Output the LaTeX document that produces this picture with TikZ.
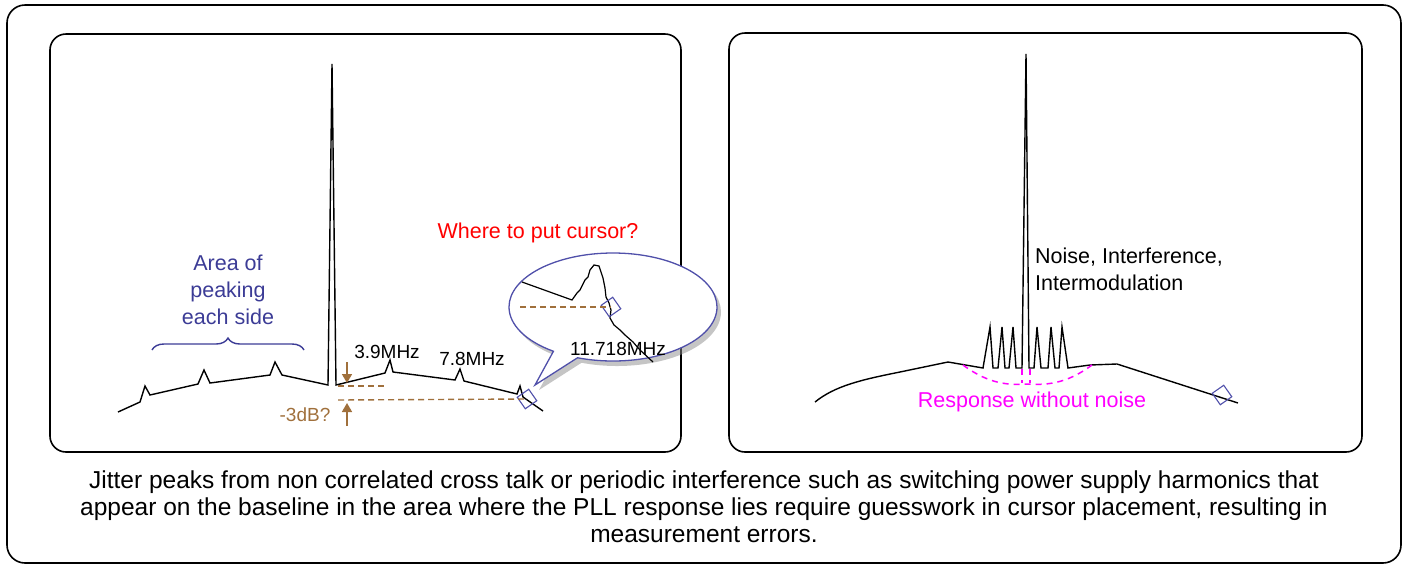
\documentclass[tikz,border=0pt]{standalone}
\usepackage{fontspec}
\setmainfont{Liberation Sans}
\usepackage{xcolor}
\usepackage{tikz}
\usetikzlibrary{shapes.geometric,shapes.callouts,arrows.meta,positioning,decorations.pathreplacing,shadows}
\definecolor{cursorblue}{RGB}{80,80,170}
\definecolor{areablue}{RGB}{60,60,150}
\definecolor{dbbrown}{RGB}{160,112,60}
\definecolor{respmagenta}{RGB}{255,0,255}

\begin{document}
\begin{tikzpicture}[
  x=1pt,y=-1pt,
  font=\fontsize{21.5}{27}\selectfont,
  panel/.style={draw,line width=1.6pt,rounded corners=16pt},
  trace/.style={line width=1.4pt,line join=miter},
  lbl/.style={inner sep=0pt,font=\fontsize{19}{22}\selectfont},
  cursor/.style={draw=cursorblue,line width=1.1pt,rectangle,rotate=35,minimum size=14pt,inner sep=0pt},
  guide/.style={draw=dbbrown,dash pattern=on 6pt off 4pt,line width=1.4pt},
  arr/.style={-{Triangle[length=9pt,width=10pt]},draw=dbbrown,line width=1.6pt},
  resp/.style={draw=respmagenta,dash pattern=on 6pt off 5pt,line width=1.5pt},
]
\useasboundingbox (0,0) rectangle (1405,566);

% 外框与两个面板
\draw[panel,rounded corners=18pt] (7,5) rectangle (1401,563);
\draw[panel] (50,34) rectangle (681,452);
\draw[panel] (729,33) rectangle (1362,452);

% 左图：频谱曲线
\draw[trace] (118,412) -- (140,402) -- (145,386) -- (150,395) -- (198,384) -- (204,370) -- (210,383)
  -- (270,375) -- (275,362) -- (282,375) -- (328,385) -- (332,64) -- (336,385)
  -- (385,373) -- (390,360) -- (393,372) -- (455,380) -- (460,369) -- (464,381)
  -- (517,394) -- (520,386) -- (523,397) -- (543,411);

% 左图：光标与 -3dB 标注
\node[cursor] (cur1) at (527,399) {};
\coordinate (hi) at (338,386);
\coordinate (hiend) at (384,386);
\coordinate (lo) at (338,400);
\coordinate (dntop) at (347,362);
\coordinate (dnend) at (347,383);
\coordinate (upbot) at (347,426);
\coordinate (upend) at (347,403);
\draw[guide] (hi) -- (hiend);
\draw[guide] (lo) -- (cur1.center);
\draw[arr] (dntop) -- (dnend);
\draw[arr] (upbot) -- (upend);
\node[lbl,text=dbbrown] (db) at (305,415) {-3dB?};

% 左图：频率标签
\node[lbl] (f1) at (387,352) {3.9MHz};
\node[lbl] (f2) at (472,359) {7.8MHz};

% 左图：峰化区域
\coordinate (brl) at (152,350);
\coordinate (brr) at (304,350);
\draw[areablue,line width=1.4pt,decorate,decoration={brace,amplitude=12pt}] (brl) -- (brr);
\node[text=areablue,align=center,inner sep=0pt] (area) at (228,290) {Area of\\peaking\\each side};

% 放大气泡
\node[text=red,inner sep=0pt] (where) at (538,233) {Where to put cursor?};
\coordinate (tip) at (535,385);
\node[ellipse callout,draw=cursorblue,line width=1.3pt,fill=white,
  minimum width=208pt,minimum height=108pt,inner sep=0pt,
  callout absolute pointer={(tip)},
  drop shadow={shadow xshift=4pt,shadow yshift=-5pt,fill=black!45,opacity=.5}] (zoom) at (613,307) {};
\draw[trace,line width=1.2pt] (522,282) -- (572,300) -- (577,293) -- (580,290) -- (583,284) -- (585,280)
  -- (588,277) -- (590,270) -- (594,265) -- (599,266) -- (601,272) -- (603,278) -- (605,288)
  -- (606,297) -- (609,303) -- (611,310) -- (610,318) -- (614,325) -- (620,330) -- (625,335)
  -- (633,342) -- (640,350) -- (653,362);
\node[cursor] (cur2) at (611,307) {};
\coordinate (zl) at (520,307);
\draw[guide] (zl) -- (cur2.center);
\node[lbl] (f3) at (618,349) {11.718MHz};

% 右图：响应曲线与干扰
\draw[trace] (815,402) .. controls (835,386) and (860,380) .. (900,372) -- (948,362) -- (983,368)
  -- (990,327) -- (993,368) -- (998,368) -- (1002,327) -- (1005,368) -- (1009,368) -- (1013,327)
  -- (1016,368) -- (1022,368) -- (1026,54) -- (1029,368) -- (1034,368) -- (1037,327) -- (1041,368)
  -- (1048,368) -- (1051,327) -- (1055,368) -- (1059,368) -- (1062,327) -- (1068,368)
  -- (1090,365) -- (1117,364) -- (1238,403);
\node[cursor] (cur3) at (1222,395) {};
\draw[resp] (963,365) .. controls (990,385) and (1010,385) .. (1026,384) .. controls (1045,385) and (1065,385) .. (1092,365);
\draw[resp] (1022,369) -- (1022,383);
\draw[resp] (1030,369) -- (1030,383);
\node[align=left,anchor=west,inner sep=0pt] (noise) at (1035,269) {Noise, Interference,\\Intermodulation};
\node[text=respmagenta,inner sep=0pt] (respnote) at (1032,402) {Response without noise};

% 说明文字
\node[align=center,inner sep=0pt,font=\fontsize{24.5}{27}\selectfont] (note) at (704,507) {Jitter peaks from non correlated cross talk or periodic interference such as switching power supply harmonics that\\appear on the baseline in the area where the PLL response lies require guesswork in cursor placement, resulting in\\measurement errors.};

\end{tikzpicture}
\end{document}
